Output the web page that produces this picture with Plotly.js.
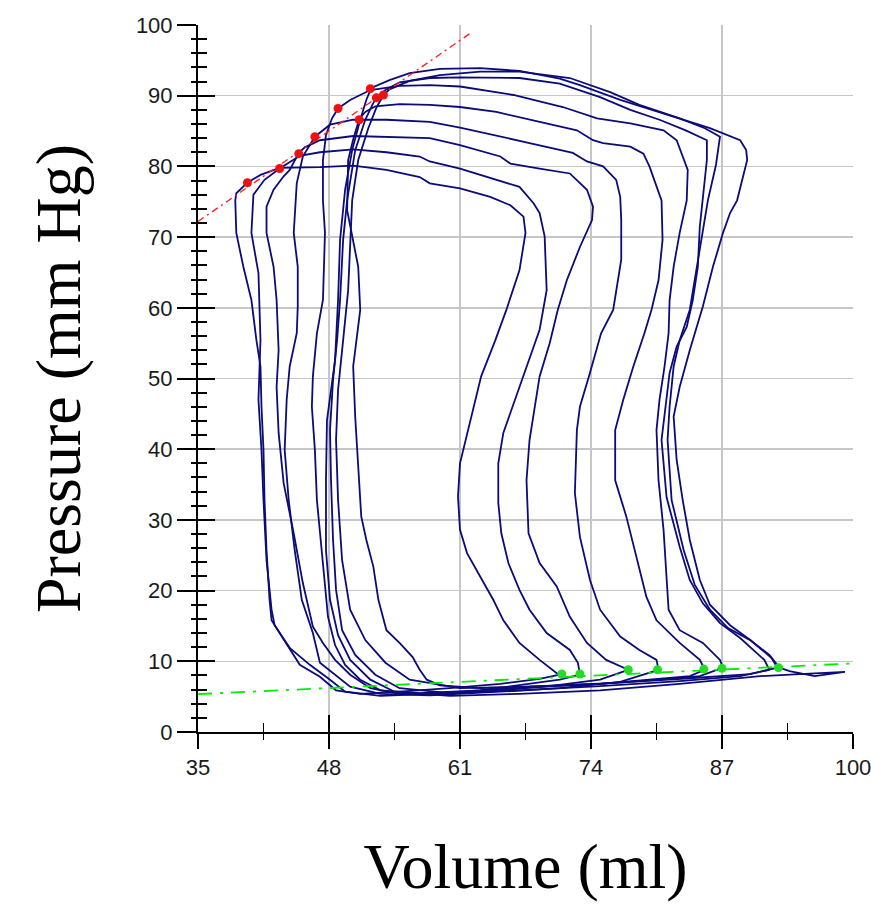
<!DOCTYPE html>
<html>
<head>
<meta charset="utf-8">
<script src="https://cdn.plot.ly/plotly-3.0.1.min.js"></script>
<style>html,body{margin:0;padding:0;background:#fff;}#chart{width:871px;height:904px;}</style>
</head>
<body>
<div id="chart"></div>
<script>
// Pressure-volume loops (volume in ml, pressure in mm Hg)
const loopA_vol = [70.9,70.6,68.9,66.9,65.3,64.3,63.0,61.7,61.0,60.8,61.0,61.7,63.1,64.5,65.6,66.9,67.5,67.3,66.0,64.0,61.0,58.0,57.0,53.7,50.4,47.1,43.1,41.2,39.9,38.8,38.7,38.8,39.5,40.3,40.8,41.2,41.3,41.5,41.6,41.8,42.1,42.3,43.1,44.1,45.1,47.1,48.7,51.1,55.0,60.0,65.0,68.9,70.9];
const loopA_pres = [8.1,8.3,10.2,12.6,15.8,18.7,22.0,25.3,28.6,33.3,38.0,42.2,50.3,55.4,59.7,65.3,70.6,72.9,74.5,75.7,76.9,77.6,78.5,79.5,80.1,79.9,79.8,78.8,77.7,76.2,75.2,70.6,65.8,61.1,55.4,51.7,46.0,39.9,32.8,25.7,18.7,15.8,14.0,11.6,9.5,7.8,5.9,5.4,5.7,6.2,6.8,7.5,8.1];

const loopB_vol = [72.9,72.7,71.9,69.6,67.9,66.9,65.8,65.1,64.8,64.8,65.3,66.8,67.8,68.9,69.6,69.4,68.9,68.3,66.9,64.6,61.0,58.0,57.0,53.7,50.4,47.1,45.1,43.1,41.6,40.5,40.3,41.0,41.2,41.0,41.3,41.5,41.8,42.3,42.6,44.1,46.1,48.1,49.6,53.1,58.0,63.0,67.9,70.9,72.9];
const loopB_pres = [8.1,9.8,11.6,14.0,17.3,20.1,23.9,28.1,32.4,38.0,42.3,48.4,52.6,56.9,62.5,70.1,73.4,74.8,77.1,78.1,79.7,80.7,81.4,82.0,82.4,82.0,81.5,79.7,78.1,76.0,70.6,64.9,55.4,47.0,39.9,32.8,24.3,17.3,15.1,11.9,9.5,7.4,5.7,5.1,5.4,5.9,6.8,7.4,8.1];

const loopC_vol = [77.7,75.5,73.6,71.9,70.6,68.9,67.8,67.6,67.9,68.3,68.9,69.9,70.7,71.6,72.9,74.1,74.2,73.6,71.9,68.9,66.0,65.0,61.0,58.0,53.7,50.4,47.1,45.6,45.0,44.1,43.5,42.5,41.8,41.8,42.5,42.8,43.0,42.8,43.0,43.5,44.5,45.4,46.4,47.4,48.6,50.1,52.1,55.0,60.0,65.0,69.9,74.9,77.7];
const loopC_pres = [8.8,10.2,12.6,16.3,20.6,23.9,28.1,35.6,41.3,45.1,50.3,55.0,59.7,63.9,68.6,72.4,74.3,76.7,79.0,79.7,80.4,81.4,83.0,84.0,84.2,84.3,83.7,82.7,81.9,79.5,78.6,76.7,74.3,70.6,65.8,61.1,54.0,48.8,42.3,35.2,28.1,21.1,14.9,12.6,10.2,8.1,6.2,5.4,5.5,5.9,6.5,7.4,8.8];

const loopD_vol = [80.7,80.5,78.8,76.9,74.9,73.9,72.9,72.4,72.6,72.9,73.9,75.0,76.2,76.5,77.0,77.0,76.9,76.5,75.2,73.6,72.2,67.9,64.6,61.0,58.0,53.7,50.4,48.1,46.6,45.4,44.8,44.5,44.9,44.9,44.8,44.1,43.8,43.6,44.0,44.6,45.3,46.4,47.1,48.8,50.1,53.1,58.0,65.0,70.9,76.9,80.7];
const loopD_pres = [8.8,10.2,11.6,13.5,17.3,21.5,27.6,33.8,42.7,46.0,50.8,56.4,59.7,62.5,66.8,72.4,75.7,78.1,80.0,80.7,81.9,83.3,84.4,85.5,86.3,86.6,86.6,85.9,84.2,81.4,77.6,70.6,65.8,60.2,56.4,51.7,47.0,39.9,32.8,25.7,18.7,14.0,9.8,7.8,6.4,5.4,5.2,5.7,6.2,7.1,8.8];

const loopE_vol = [85.3,84.8,82.8,80.5,79.5,78.5,77.5,76.4,76.4,77.2,78.2,79.3,80.0,80.7,81.1,81.0,80.5,79.8,79.2,77.9,75.2,74.2,72.6,68.9,64.6,61.0,58.0,55.0,52.6,51.6,51.0,50.4,49.9,49.8,50.4,50.9,51.1,50.7,50.4,50.6,50.9,51.2,51.7,52.4,52.9,53.7,55.0,56.3,57.0,57.7,59.0,63.0,68.9,74.9,79.8,83.8,85.3];
const loopE_pres = [8.8,10.2,12.6,15.8,19.1,24.8,30.5,35.6,42.7,47.0,51.7,56.4,59.7,63.9,69.6,75.2,77.1,80.0,81.8,82.8,83.3,83.7,85.1,86.3,87.7,88.4,88.7,88.8,88.5,87.7,86.7,83.8,80.9,73.8,69.6,65.8,59.7,55.4,51.7,44.6,37.5,30.5,27.2,23.4,18.7,14.4,12.6,10.6,8.8,7.4,6.6,6.2,6.5,6.8,7.4,7.9,8.8];

const loopF_vol = [87.1,86.8,85.1,82.8,81.7,81.5,81.2,80.7,80.5,80.8,81.3,81.7,81.8,82.2,82.8,83.5,83.6,82.5,81.2,77.9,74.6,71.2,66.3,61.0,58.0,55.0,52.1,50.1,48.9,48.3,47.7,47.4,47.4,47.6,47.4,46.8,46.4,46.3,46.6,46.8,47.1,47.4,47.9,48.6,49.6,51.1,53.1,57.0,63.0,68.9,74.9,80.8,84.8,87.1];
const loopF_pres = [9.1,10.2,12.6,14.4,17.3,21.5,28.6,35.6,42.7,47.0,51.7,56.4,61.1,65.8,70.6,75.2,79.5,83.7,85.1,86.1,86.8,88.4,90.1,91.3,91.5,91.4,90.8,89.4,88.2,86.8,84.4,80.9,75.2,70.6,61.1,56.4,50.3,46.0,39.9,32.8,28.1,23.4,16.3,12.3,9.5,7.4,5.9,5.5,5.9,6.4,6.8,7.4,7.9,9.1];

const loopG_vol = [91.7,91.2,88.8,86.8,85.1,83.8,82.8,81.5,81.0,81.5,81.8,82.5,83.5,84.1,84.6,84.8,85.1,85.5,85.5,83.4,80.8,77.9,74.9,70.9,66.9,61.0,58.0,55.0,53.6,52.7,52.3,51.6,50.6,50.1,49.8,49.4,49.1,48.8,48.4,48.1,48.2,48.4,48.7,49.3,50.6,52.6,55.0,60.0,66.9,74.9,82.8,88.8,91.7];
const loopG_pres = [8.8,10.2,13.3,15.4,18.2,21.5,26.2,33.2,41.3,47.0,50.8,54.5,57.3,61.1,65.8,71.5,75.2,80.9,83.7,85.1,86.6,88.0,89.8,91.7,92.5,92.6,92.5,91.9,90.8,89.7,88.7,86.6,82.3,78.1,75.2,69.6,61.1,55.4,49.8,42.7,35.6,27.2,20.1,14.4,10.9,8.1,6.2,5.5,5.9,6.5,7.2,7.9,8.8];

const loopH_vol = [92.5,91.9,89.8,87.6,85.8,84.3,83.2,82.0,81.6,81.8,82.2,82.8,83.8,84.5,85.6,86.4,86.8,85.3,82.8,78.8,75.9,71.9,66.9,63.0,59.0,56.0,54.0,53.4,52.7,51.9,50.9,50.3,50.1,49.9,49.4,48.9,48.7,48.9,49.3,50.1,51.6,53.6,56.0,61.0,67.9,75.9,83.8,89.8,92.5];
const loopH_pres = [9.1,10.5,13.0,14.7,17.3,20.8,25.7,32.8,41.3,46.0,51.7,55.4,59.7,65.8,75.2,80.2,84.2,85.4,86.8,88.7,90.5,92.5,93.4,93.4,92.9,92.1,90.9,90.1,88.3,85.4,80.9,75.2,69.6,62.5,55.4,48.4,41.3,32.8,24.3,17.3,13.0,9.8,7.4,6.2,6.4,6.9,7.6,8.2,9.1];

const loopI_vol = [92.7,91.7,89.8,87.8,85.8,84.8,83.8,83.1,82.5,82.2,82.8,83.8,85.1,86.1,87.1,87.8,88.5,89.0,89.5,89.4,88.8,85.8,80.8,76.9,72.9,70.9,66.9,63.0,59.0,56.0,54.0,52.2,51.7,51.1,50.3,49.6,49.1,48.9,48.6,47.8,47.7,47.7,48.1,48.9,50.1,52.1,54.5,60.0,66.9,74.9,82.8,90.8,94.7,99.2,96.2,93.7,92.7];
const loopI_pres = [9.1,10.9,13.0,15.1,18.0,21.5,27.2,32.8,38.5,44.6,48.8,54.0,60.2,65.8,70.6,73.4,75.2,78.1,80.9,82.3,83.7,85.4,87.7,89.4,91.5,92.4,93.5,93.9,93.8,93.2,92.2,91.1,89.4,86.6,82.3,76.7,69.6,61.1,52.6,44.1,35.6,25.7,18.7,13.7,10.2,7.4,5.7,5.1,5.4,5.9,6.8,7.9,8.2,8.5,7.9,8.6,9.1];

// End-systolic points (red) and end-diastolic points (green)
const esVol  = [39.9,43.1,45.0,46.6,51.0,48.9,52.7,53.4,52.1];
const esPres = [77.7,79.7,81.8,84.2,86.6,88.2,89.7,90.1,91.0];
const edVol  = [71.1,72.9,77.7,80.6,85.2,87.0,92.6];
const edPres = [8.2,8.2,8.8,8.8,8.9,9.0,9.1];

// ESPVR (red dashed) and EDPVR (green dashed) fits
const espvrVol  = [35, 62.2];
const espvrPres = [72.2, 99.0];
const edpvrVol  = [35, 100];
const edpvrPres = [5.35, 9.7];

// Axis ticks
const xTicks = [35,48,61,74,87,100];
const yTicks = [0,10,20,30,40,50,60,70,80,90,100];

const loops = [
  [loopA_vol, loopA_pres],[loopB_vol, loopB_pres],[loopC_vol, loopC_pres],
  [loopD_vol, loopD_pres],[loopE_vol, loopE_pres],[loopF_vol, loopF_pres],
  [loopG_vol, loopG_pres],[loopH_vol, loopH_pres],[loopI_vol, loopI_pres]
];

const navy = '#0b0b7a';
const traces = loops.map(l => ({
  type:'scatter', mode:'lines', x:l[0], y:l[1],
  line:{color:navy, width:1.8}, hoverinfo:'skip', showlegend:false
}));

traces.push({type:'scatter', mode:'lines', x:espvrVol, y:espvrPres,
  line:{color:'#ff1a1a', width:1.3, dash:'7px,4px,2px,4px'}, hoverinfo:'skip', showlegend:false});
traces.push({type:'scatter', mode:'lines', x:edpvrVol, y:edpvrPres,
  line:{color:'#00ee00', width:1.8, dash:'14px,8px,3px,8px'}, hoverinfo:'skip', showlegend:false});
traces.push({type:'scatter', mode:'markers', x:esVol, y:esPres,
  marker:{color:'#ee1111', size:9, symbol:'circle'}, hoverinfo:'skip', showlegend:false});
traces.push({type:'scatter', mode:'markers', x:edVol, y:edPres,
  marker:{color:'#22dd22', size:9, symbol:'circle'}, hoverinfo:'skip', showlegend:false});
// empty trace to anchor the overlay axes that draw the inner half of the crossing ticks
traces.push({type:'scatter', mode:'lines', x:[], y:[], xaxis:'x2', yaxis:'y2', hoverinfo:'skip', showlegend:false});

const tickFont = {family:'Liberation Sans, Arial, sans-serif', size:22, color:'#1a1a1a'};
const titleFont = {family:'Liberation Serif, Times New Roman, serif', size:64, color:'#000'};

const layout = {
  width:871, height:904,
  margin:{l:198, r:18, t:25, b:172},
  paper_bgcolor:'#fff', plot_bgcolor:'#fff',
  showlegend:false,
  xaxis:{
    range:[35,100], tickmode:'array', tickvals:xTicks, ticktext:xTicks.map(String),
    ticks:'outside', ticklen:15, tickwidth:2, tickcolor:'#000',
    showline:true, linecolor:'#000', linewidth:2,
    showgrid:true, gridcolor:'#c6c6c6', gridwidth:1.5, zeroline:false,
    tickfont:tickFont, ticklabeloverflow:'allow',
    minor:{tick0:35, dtick:6.5, ticks:'outside', ticklen:6, tickwidth:1.5, tickcolor:'#000', showgrid:false},
    title:{text:'Volume (ml)', font:titleFont, standoff:64},
    fixedrange:true
  },
  xaxis2:{
    overlaying:'x', anchor:'y', side:'bottom', range:[35,100],
    tickmode:'array', tickvals:xTicks,
    ticks:'inside', ticklen:17, tickwidth:2, tickcolor:'#000',
    minor:{tick0:35, dtick:6.5, ticks:'inside', ticklen:9, tickwidth:1.5, tickcolor:'#000', showgrid:false},
    showticklabels:false, showgrid:false, showline:false, zeroline:false, fixedrange:true
  },
  yaxis:{
    range:[0,100], tickmode:'array', tickvals:yTicks, ticktext:yTicks.map(String),
    ticks:'outside', ticklen:19, tickwidth:2, tickcolor:'#000',
    showline:true, linecolor:'#000', linewidth:2,
    showgrid:true, gridcolor:'#c6c6c6', gridwidth:1.5, zeroline:false,
    tickfont:tickFont,
    minor:{tick0:0, dtick:2, ticks:'outside', ticklen:5, tickwidth:2, tickcolor:'#000', showgrid:false},
    title:{text:'Pressure (mm Hg)', font:titleFont, standoff:34},
    fixedrange:true
  },
  yaxis2:{
    overlaying:'y', anchor:'x', side:'left', range:[0,100],
    tickmode:'array', tickvals:yTicks,
    ticks:'inside', ticklen:17, tickwidth:2, tickcolor:'#000',
    minor:{tick0:0, dtick:2, ticks:'inside', ticklen:9, tickwidth:2, tickcolor:'#000', showgrid:false},
    showticklabels:false, showgrid:false, showline:false, zeroline:false, fixedrange:true
  }
};

Plotly.newPlot('chart', traces, layout, {staticPlot:true, displayModeBar:false});
</script>
</body>
</html>
